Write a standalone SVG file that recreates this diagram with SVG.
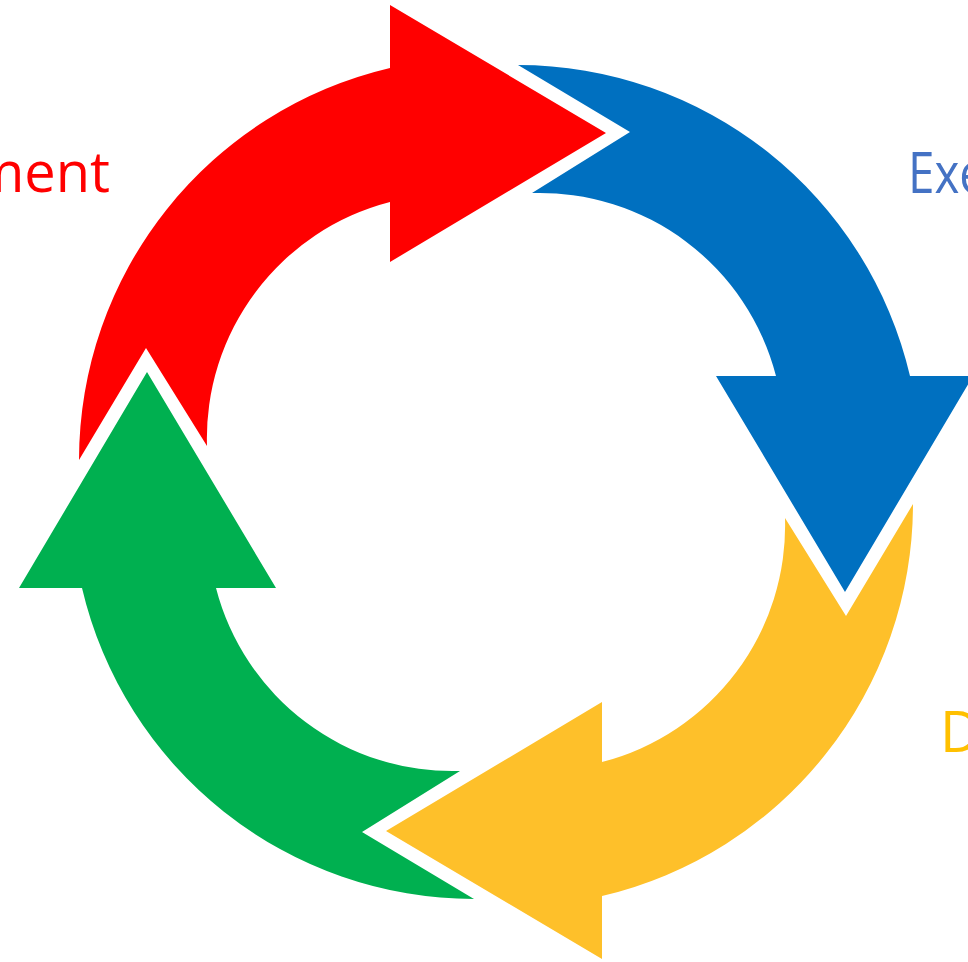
<svg xmlns="http://www.w3.org/2000/svg" width="968" height="962" viewBox="0 0 968 962">
<style>
.lbl{font-family:"Open Sans","Liberation Sans",sans-serif;font-size:56px}
</style>
<defs>
<path id="arc-arrow" d="M-417,-22 A403,403 0 0 1 -106,-414 L-106,-477 L110,-349 L-106,-220 L-106,-280 A244,244 0 0 0 -289,-36 L-350,-134 Z"/>
</defs>
<rect width="968" height="962" fill="#ffffff"/>
<g id="connectors" transform="translate(496,482)">
<g id="arrow-red"><use href="#arc-arrow" fill="#FF0000"/></g>
<g id="arrow-blue" transform="rotate(90)"><use href="#arc-arrow" fill="#0070C0"/></g>
<g id="arrow-yellow" transform="rotate(180)"><use href="#arc-arrow" fill="#FEC02A"/></g>
<g id="arrow-green" transform="rotate(270)"><use href="#arc-arrow" fill="#00B050"/></g>
</g>
<g id="label-red"><text class="lbl" x="110" y="192" text-anchor="end" fill="#FF0000">ment</text></g>
<g id="label-blue" transform="translate(908,193) scale(0.85,1)"><text class="lbl" x="0" y="0" fill="#4472C4">Exe</text></g>
<g id="label-yellow"><text class="lbl" x="940" y="752" fill="#FFC000">D</text></g>
</svg>
